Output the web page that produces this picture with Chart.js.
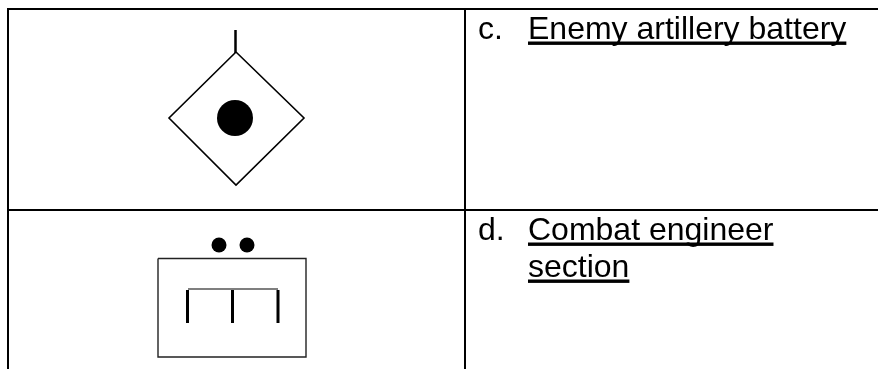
<!DOCTYPE html>
<html>
<head>
<meta charset="utf-8">
<style>
html, body { margin: 0; padding: 0; background: #fff; }
#wrap { width: 878px; height: 369px; }
</style>
<script src="https://cdn.jsdelivr.net/npm/chart.js@4"></script>
</head>
<body>
<div id="wrap"><canvas id="symbolChart" width="878" height="369"></canvas></div>
<script>
// table rules
const tableRules = [
    [[7, 9], [878, 9]],
    [[7, 210], [878, 210]],
    [[8, 9], [8, 369]],
    [[465, 9], [465, 369]]
];

// enemy artillery battery symbol
const diamondOutline = [[236, 52], [304, 118], [236, 185], [169, 118], [236, 52]];
const diamondStem = [[235.5, 30], [235.5, 53]];
const diamondDot = [[235, 118]];

// combat engineer section symbol
const boxOutline = [[158, 258.5], [306, 258.5], [306, 357], [158, 357], [158, 258.5]];
const boxBar = [[188, 289], [278, 289]];
const boxStems = [
    [[187.5, 290], [187.5, 323]],
    [[232.5, 290], [232.5, 323]],
    [[278, 290], [278, 323]]
];
const sizeDots = [[219, 245], [247, 245]];

// cell text
const rowLetters = ["c.", "d."];
const letterSpots = [[478, 39], [478, 240]];
const rowLabels = ["Enemy artillery battery", "Combat engineer", "section"];
const labelSpots = [[528, 39], [528, 240], [528, 277]];

function toPoints(list){
    return list.map(p => ({x: p[0], y: p[1]}));
}

function lineSet(list, width, color){
    return {
        data: toPoints(list),
        showLine: true,
        borderColor: color || "#000",
        borderWidth: width,
        pointRadius: 0,
        tension: 0,
        clip: false
    };
}

function dotSet(list, radius){
    return {
        data: toPoints(list),
        showLine: false,
        backgroundColor: "#000",
        borderWidth: 0,
        pointRadius: radius,
        clip: false
    };
}

const datasets = [];
tableRules.forEach(r => datasets.push(lineSet(r, 2)));
datasets.push(lineSet(diamondOutline, 1.6));
datasets.push(lineSet(diamondStem, 2.5));
datasets.push(dotSet(diamondDot, 18));
datasets.push(lineSet(boxOutline, 1.4, "#222"));
datasets.push(lineSet(boxBar, 1.5, "#555"));
boxStems.forEach(s => datasets.push(lineSet(s, 3)));
datasets.push(dotSet(sizeDots, 7.5));

// text drawn at data positions, underlined like the original
const cellText = {
    id: "cellText",
    afterDatasetsDraw(chart){
        const c = chart.ctx;
        const sx = chart.scales.x;
        const sy = chart.scales.y;
        c.save();
        c.font = "32px 'Liberation Sans'";
        c.fillStyle = "#000";
        c.textBaseline = "alphabetic";
        rowLetters.forEach((t, i) => {
            c.fillText(t, sx.getPixelForValue(letterSpots[i][0]), sy.getPixelForValue(letterSpots[i][1]));
        });
        rowLabels.forEach((t, i) => {
            const px = sx.getPixelForValue(labelSpots[i][0]);
            const py = sy.getPixelForValue(labelSpots[i][1]);
            c.fillText(t, px, py);
            c.fillRect(px, py + 2.5, c.measureText(t).width, 3.4);
        });
        c.restore();
    }
};

new Chart(document.getElementById("symbolChart").getContext("2d"), {
    type: "scatter",
    data: { datasets: datasets },
    plugins: [cellText],
    options: {
        responsive: false,
        animation: false,
        layout: { padding: 0, autoPadding: false },
        plugins: { legend: { display: false }, tooltip: { enabled: false }, title: { display: false } },
        scales: {
            x: { type: "linear", display: false, min: 0, max: 878 },
            y: { type: "linear", display: false, min: 0, max: 369, reverse: true }
        }
    }
});
</script>
</body>
</html>
